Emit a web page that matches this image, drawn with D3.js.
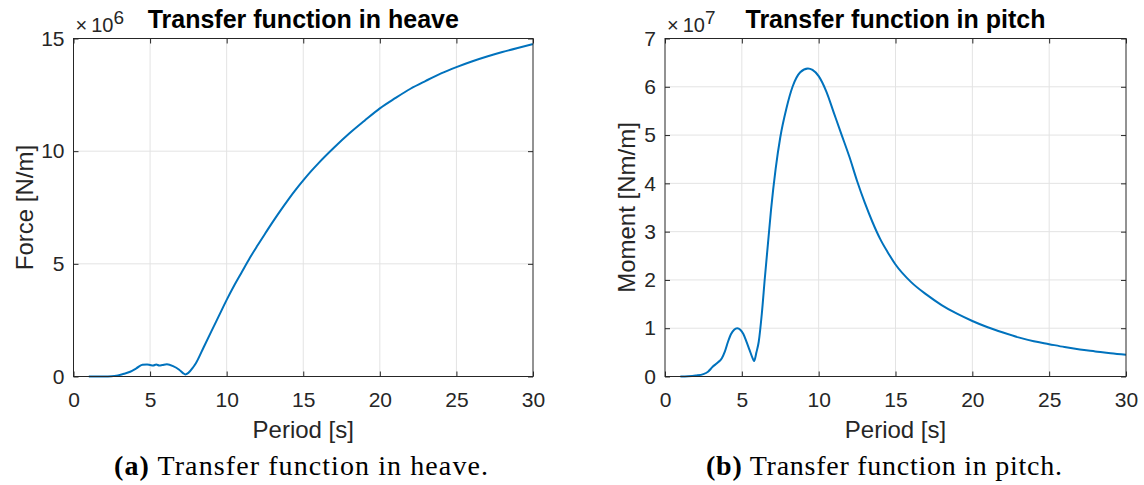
<!DOCTYPE html>
<html>
<head>
<meta charset="utf-8">
<script src="https://cdn.jsdelivr.net/npm/d3@7"></script>
<style>
  body { margin: 0; background: #fff; }
  svg { font-family: "Liberation Sans", Arial, sans-serif; }
  .tick text { fill: #262626; font-size: 21px; }
  .tick line { stroke: #262626; }
  .domain { stroke: none; }
  .grid line { stroke: #e3e3e3; stroke-width: 1; }
</style>
</head>
<body>
<svg width="1144" height="485"></svg>
<script>
// heave: period [s] vs force [N/m] (x1e6)
const heavePeriod = [1, 2, 2.5, 2.9, 3.3, 3.7, 4.1, 4.5, 4.8, 5.0, 5.2, 5.4, 5.6, 5.8, 6.1, 6.5, 6.9, 7.15, 7.3, 7.5, 7.8, 8.0, 8.5, 9, 9.5, 10, 10.5, 11, 11.5, 12, 12.5, 13, 13.5, 14, 14.5, 15, 15.5, 16, 17, 18, 19, 20, 21, 22, 23, 24, 25, 26, 27, 28, 29, 30];
const heaveForce  = [0, 0, 0.01, 0.05, 0.12, 0.21, 0.36, 0.52, 0.53, 0.51, 0.49, 0.53, 0.49, 0.51, 0.54, 0.46, 0.3, 0.15, 0.09, 0.16, 0.4, 0.6, 1.3, 2.0, 2.7, 3.4, 4.05, 4.65, 5.25, 5.8, 6.33, 6.85, 7.35, 7.83, 8.28, 8.7, 9.1, 9.47, 10.15, 10.78, 11.35, 11.9, 12.35, 12.77, 13.12, 13.45, 13.73, 13.98, 14.2, 14.4, 14.58, 14.75];

// pitch: period [s] vs moment [Nm/m] (x1e7)
const pitchPeriod = [1, 1.5, 2, 2.5, 2.8, 3.1, 3.4, 3.7, 3.9, 4.1, 4.3, 4.5, 4.7, 4.9, 5.1, 5.3, 5.5, 5.7, 5.8, 5.95, 6.1, 6.3, 6.5, 6.7, 6.9, 7.2, 7.5, 7.9, 8.3, 8.8, 9.3, 9.6, 10, 10.5, 11, 11.5, 12, 12.5, 13, 13.5, 14, 14.5, 15, 16, 17, 18, 19, 20, 21, 22, 23, 24, 25, 26, 27, 28, 29, 30];
const pitchMoment = [0, 0.005, 0.02, 0.05, 0.1, 0.2, 0.28, 0.38, 0.52, 0.72, 0.88, 0.97, 1.0, 0.97, 0.88, 0.72, 0.55, 0.38, 0.32, 0.5, 0.72, 1.3, 2.05, 2.75, 3.45, 4.3, 4.95, 5.55, 6.0, 6.3, 6.38, 6.35, 6.22, 5.9, 5.45, 5.0, 4.55, 4.05, 3.6, 3.2, 2.85, 2.57, 2.32, 1.96, 1.7, 1.48, 1.3, 1.15, 1.02, 0.91, 0.81, 0.73, 0.67, 0.61, 0.56, 0.52, 0.48, 0.45];

const xTicks = [0, 5, 10, 15, 20, 25, 30];
const heaveTicks = [0, 5, 10, 15];
const pitchTicks = [0, 1, 2, 3, 4, 5, 6, 7];

const svg = d3.select("svg");

function drawPanel(o) {
  const g = svg.append("g");
  const x = d3.scaleLinear().domain([0, 30]).range([o.left, o.right]);
  const y = d3.scaleLinear().domain([0, o.ymax]).range([o.bottom, o.top]);
  const cx = (o.left + o.right) / 2;

  // grid
  const grid = g.append("g").attr("class", "grid");
  grid.selectAll(".vx").data(xTicks.slice(1, -1)).enter().append("line")
    .attr("x1", d => x(d)).attr("x2", d => x(d))
    .attr("y1", o.top).attr("y2", o.bottom);
  grid.selectAll(".hy").data(o.yTicks.slice(1, -1)).enter().append("line")
    .attr("y1", d => y(d)).attr("y2", d => y(d))
    .attr("x1", o.left).attr("x2", o.right);

  // curve
  const line = d3.line()
    .x((d, i) => x(o.xs[i]))
    .y(d => y(d))
    .curve(d3.curveMonotoneX);
  g.append("path").datum(o.ys)
    .attr("d", line)
    .attr("fill", "none")
    .attr("stroke", "#0072BD")
    .attr("stroke-width", 2);

  // axes, ticks inside like matlab
  const fmt = d3.format("d");
  const xb = g.append("g").attr("transform", `translate(0,${o.bottom})`)
    .call(d3.axisBottom(x).tickValues(xTicks).tickSize(-5).tickPadding(23).tickFormat(fmt));
  xb.selectAll("text").attr("dy", "0.35em");
  g.append("g").attr("transform", `translate(0,${o.top})`)
    .call(d3.axisTop(x).tickValues(xTicks).tickSize(-5).tickFormat(""));
  g.append("g").attr("transform", `translate(${o.left},0)`)
    .call(d3.axisLeft(y).tickValues(o.yTicks).tickSize(-5).tickPadding(9).tickFormat(fmt));
  g.append("g").attr("transform", `translate(${o.right},0)`)
    .call(d3.axisRight(y).tickValues(o.yTicks).tickSize(-5).tickFormat(""));

  g.append("rect")
    .attr("x", o.left).attr("y", o.top)
    .attr("width", o.right - o.left).attr("height", o.bottom - o.top)
    .attr("fill", "none").attr("stroke", "#262626").attr("stroke-width", 1);

  // exponent
  const ex = g.append("text").attr("x", o.left + 2).attr("y", 32)
    .attr("fill", "#262626").style("font-size", "20px");
  ex.append("tspan").text("\u00d7");
  ex.append("tspan").attr("dx", 4).text("10");
  ex.append("tspan").attr("dy", -8).style("font-size", "19px").text(o.exp);

  // title
  g.append("text").attr("x", cx).attr("y", 28)
    .attr("text-anchor", "middle").attr("font-weight", "bold")
    .style("font-size", "25px").attr("fill", "#000").text(o.title);

  // axis labels
  g.append("text").attr("x", cx).attr("y", 438)
    .attr("text-anchor", "middle").style("font-size", "24px").attr("fill", "#262626")
    .text("Period [s]");
  g.append("text")
    .attr("transform", `translate(${o.ylabX},${(o.top + o.bottom) / 2}) rotate(-90)`)
    .attr("text-anchor", "middle").style("font-size", "24px").attr("fill", "#262626")
    .text(o.ylabel);

  // caption
  const cap = g.append("text").attr("x", o.capX).attr("y", 475)
    .attr("text-anchor", "middle").style("font-family", "'Liberation Serif', serif")
    .style("font-size", "28px").attr("fill", "#000")
    .attr("textLength", o.capW).attr("lengthAdjust", "spacing");
  cap.append("tspan").attr("font-weight", "bold").text(o.capTag);
  cap.append("tspan").text(" " + o.caption);
}

drawPanel({
  left: 73.5, right: 533, top: 38.5, bottom: 376.5, ymax: 15,
  xs: heavePeriod, ys: heaveForce, yTicks: heaveTicks, exp: "6",
  title: "Transfer function in heave",
  ylabel: "Force [N/m]", ylabX: 33,
  capTag: "(a)", caption: "Transfer function in heave.", capX: 301, capW: 374
});
drawPanel({
  left: 665, right: 1126, top: 38.5, bottom: 376.5, ymax: 7,
  xs: pitchPeriod, ys: pitchMoment, yTicks: pitchTicks, exp: "7",
  title: "Transfer function in pitch",
  ylabel: "Moment [Nm/m]", ylabX: 635,
  capTag: "(b)", caption: "Transfer function in pitch.", capX: 884, capW: 356
});
</script>
</body>
</html>
